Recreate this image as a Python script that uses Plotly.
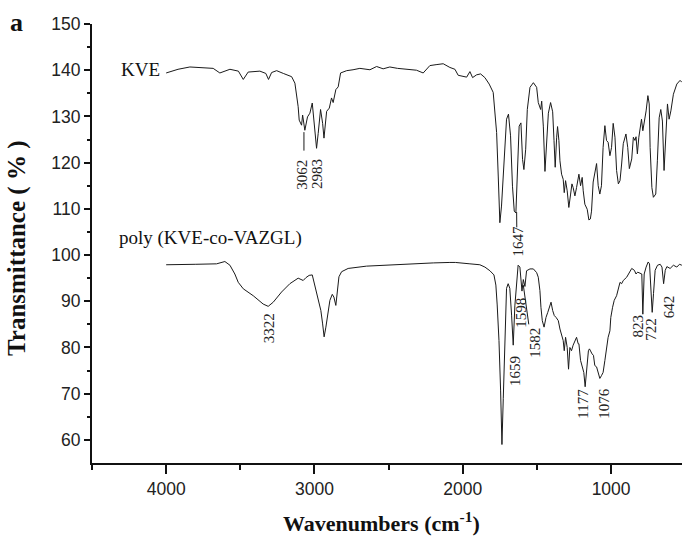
import plotly.graph_objects as go

# ---------------- data ----------------
kve_wn = [4000, 3920, 3840, 3760, 3683, 3638, 3570, 3513, 3480, 3447, 3368, 3328, 3310, 3289, 3255, 3210,
          3154, 3132, 3121, 3110, 3103, 3087, 3080, 3065, 3047, 3031, 3015, 3004, 2986, 2975, 2959, 2945,
          2936, 2918, 2900, 2885, 2874, 2856, 2840, 2824, 2783, 2740, 2694, 2626, 2581, 2537, 2492, 2440,
          2402, 2312, 2267, 2222, 2180, 2132, 2087, 2053, 2031, 1997, 1974, 1952, 1934, 1907, 1880, 1851,
          1822, 1795, 1784, 1772, 1761, 1750, 1739, 1723, 1705, 1692, 1678, 1665, 1653, 1642, 1633, 1620,
          1608, 1597, 1588, 1576, 1565, 1547, 1524, 1502, 1491, 1475, 1468, 1457, 1446, 1434, 1423, 1408,
          1394, 1385, 1377, 1367, 1361, 1352, 1345, 1334, 1323, 1316, 1307, 1296, 1285, 1273, 1264, 1256,
          1244, 1233, 1217, 1206, 1195, 1188, 1177, 1161, 1150, 1140, 1132, 1121, 1110, 1098, 1087, 1076,
          1065, 1054, 1042, 1031, 1020, 1008, 997, 986, 974, 963, 951, 940, 929, 918, 900, 888,
          877, 861, 850, 839, 832, 823, 813, 804, 795, 786, 775, 764, 752, 743, 737, 725,
          715, 699, 688, 676, 665, 654, 643, 631, 620, 609, 597, 580, 557, 535, 523]
kve_t = [139.4, 140.2, 140.7, 140.5, 140.4, 139.4, 140.2, 139.8, 138.0, 139.6, 139.8, 139.3, 138.0, 139.5, 139.9, 139.3,
         138.6, 137.2, 135.0, 132.1, 129.2, 128.1, 130.3, 127.0, 129.9, 130.7, 132.9, 129.2, 123.1, 126.3, 131.5, 128.5,
         125.3, 131.1, 131.8, 134.0, 133.0, 135.8, 136.4, 139.4, 139.9, 140.1, 140.4, 140.1, 140.8, 140.3, 140.7, 140.4,
         140.3, 140.0, 139.4, 141.0, 141.2, 141.4, 140.6, 140.2, 138.9, 138.6, 138.5, 139.7, 138.4, 139.0, 139.2, 138.4,
         137.0, 135.2, 131.5, 126.5, 117.1, 107.0, 110.6, 120.7, 129.4, 130.5, 125.8, 114.9, 109.5, 109.1, 118.5, 127.9,
         128.6, 120.7, 118.5, 122.9, 131.5, 136.3, 137.3, 136.3, 133.0, 131.5, 133.3, 127.9, 118.1, 124.2, 130.7, 133.0,
         131.0, 124.8, 119.0, 125.5, 127.8, 124.8, 120.4, 117.5, 116.4, 113.5, 116.1, 113.9, 110.3, 113.2, 115.4, 114.6,
         112.8, 114.6, 117.5, 115.0, 116.8, 113.9, 111.0, 109.9, 107.6, 107.8, 109.5, 115.8, 118.0, 119.8, 115.0, 113.2,
         115.0, 123.3, 128.0, 124.8, 124.4, 121.5, 123.3, 128.5, 125.5, 118.3, 115.4, 116.1, 119.7, 124.1, 126.2, 123.3,
         118.7, 120.8, 125.5, 124.8, 125.6, 121.9, 125.5, 127.6, 129.4, 126.9, 128.7, 131.2, 134.5, 132.7, 123.3, 114.6,
         112.5, 113.2, 120.4, 129.7, 131.5, 129.0, 118.3, 127.6, 132.7, 129.4, 131.2, 134.8, 137.0, 137.8, 137.4]

poly_wn = [4000, 3900, 3800, 3660, 3604, 3570, 3537, 3514, 3480, 3413, 3346, 3312, 3278, 3222, 3166, 3110,
           3076, 3058, 3036, 3015, 3002, 2986, 2970, 2957, 2945, 2935, 2923, 2912, 2896, 2880, 2869, 2856,
           2844, 2835, 2817, 2773, 2649, 2424, 2199, 2087, 2050, 1952, 1885, 1851, 1817, 1790, 1777, 1768,
           1756, 1745, 1736, 1727, 1716, 1705, 1694, 1683, 1671, 1660, 1649, 1638, 1627, 1615, 1608, 1601,
           1592, 1581, 1570, 1547, 1524, 1502, 1491, 1480, 1473, 1464, 1452, 1439, 1427, 1416, 1405, 1394,
           1383, 1371, 1356, 1345, 1334, 1323, 1316, 1307, 1296, 1287, 1278, 1267, 1256, 1244, 1233, 1222,
           1217, 1206, 1195, 1184, 1175, 1164, 1153, 1146, 1137, 1128, 1119, 1110, 1098, 1087, 1076, 1065,
           1054, 1042, 1031, 1020, 1008, 1002, 990, 979, 963, 951, 940, 929, 918, 895, 877, 861,
           843, 832, 821, 804, 793, 786, 777, 764, 750, 741, 732, 723, 714, 703, 687, 669,
           657, 646, 635, 624, 602, 580, 557, 539, 523]
poly_t = [97.9, 97.9, 98.0, 98.1, 98.6, 97.8, 95.9, 94.1, 92.7, 91.2, 89.4, 88.9, 89.8, 92.0, 93.8, 95.0,
          94.5, 95.1, 95.6, 95.7, 94.1, 92.0, 89.8, 88.0, 85.1, 82.3, 84.4, 87.3, 90.2, 91.5, 90.9, 89.1,
          92.4, 95.3, 96.4, 97.1, 97.6, 98.0, 98.3, 98.4, 98.4, 98.1, 97.9, 97.4, 96.6, 95.7, 93.5, 89.2,
          81.5, 70.6, 59.0, 69.0, 81.0, 92.8, 93.8, 92.8, 87.0, 80.5, 89.0, 94.0, 97.8, 97.4, 94.0, 92.2,
          94.7, 93.2, 96.6, 97.0, 97.0, 96.2, 95.2, 92.3, 88.7, 85.8, 84.4, 86.5, 87.6, 88.7, 89.8, 88.0,
          86.9, 86.5, 85.8, 84.0, 82.9, 81.5, 79.3, 82.2, 80.0, 75.3, 80.0, 79.3, 80.5, 81.5, 82.2, 80.8,
          80.8, 77.2, 76.1, 74.6, 71.5, 76.5, 79.3, 79.7, 79.0, 78.6, 78.3, 76.1, 75.8, 74.6, 73.3, 73.9,
          74.6, 77.2, 80.0, 82.2, 83.6, 86.5, 88.7, 90.2, 91.2, 93.1, 94.1, 93.8, 94.5, 95.2, 96.3, 97.1,
          96.7, 95.9, 96.3, 96.1, 95.9, 87.2, 95.9, 97.4, 98.5, 98.1, 93.1, 87.6, 91.7, 96.7, 97.8, 98.0,
          97.4, 93.8, 96.7, 97.5, 97.1, 97.8, 97.4, 98.0, 97.8]

# peak labels: text, wavenumber position, transmittance position (label centre)
peak_text = ["3062", "2983", "1647", "3322", "1659", "1598", "1582", "1177", "1076", "823", "722", "642"]
peak_x = [3081, 2984, 1630, 3306, 1652, 1608, 1514, 1191, 1049, 816, 732, 614]
peak_y = [117.5, 117.5, 103.1, 84.2, 75.0, 87.5, 81.0, 67.8, 68.0, 84.6, 84.0, 88.8]

# leader lines: (x0, y0, x1, y1) in data units
leaders = [(3071, 126.6, 3071, 122.6), (1637, 109.3, 1636, 106.0), (1592, 93.5, 1555, 85.0)]

series_names = ["KVE", "poly (KVE-co-VAZGL)"]
name_x = [4030, 3698]
name_y = [140.2, 103.6]

x_ticks = [4000, 3000, 2000, 1000]
y_ticks = [60, 70, 80, 90, 100, 110, 120, 130, 140, 150]

# ---------------- layout geometry ----------------
W, H = 682, 536
L, R, T, B = 92, 0, 24, 73
pw, ph = W - L - R, H - T - B


def px_to_paper(px, py):
    return (px - L) / pw, (H - B - py) / ph


serif = "Liberation Serif, Times New Roman, serif"
sans = "Liberation Sans, Arial, sans-serif"
line_col = "#1a1a1a"

fig = go.Figure()
fig.add_trace(go.Scatter(x=kve_wn, y=kve_t, mode="lines", line=dict(color=line_col, width=1),
                         showlegend=False, hoverinfo="skip"))
fig.add_trace(go.Scatter(x=poly_wn, y=poly_t, mode="lines", line=dict(color=line_col, width=1),
                         showlegend=False, hoverinfo="skip"))
for (x0, y0, x1, y1) in leaders:
    fig.add_trace(go.Scatter(x=[x0, x1], y=[y0, y1], mode="lines", line=dict(color=line_col, width=1),
                             showlegend=False, hoverinfo="skip"))

annotations = []
for t, x, y in zip(peak_text, peak_x, peak_y):
    annotations.append(dict(x=x, y=y, xref="x", yref="y", text=t, textangle=-90, showarrow=False,
                            xanchor="center", yanchor="middle",
                            font=dict(family=serif, size=15, color="#222")))
annotations.append(dict(x=name_x[0], y=name_y[0], xref="x", yref="y", text=series_names[0], showarrow=False,
                        xanchor="right", yanchor="middle", font=dict(family=serif, size=19, color="#111")))
annotations.append(dict(x=name_x[1], y=name_y[1], xref="x", yref="y", text=series_names[1], showarrow=False,
                        xanchor="center", yanchor="middle", font=dict(family=serif, size=19, color="#111")))

ax, ay = px_to_paper(17, 249)
annotations.append(dict(x=ax, y=ay, xref="paper", yref="paper", text="<b>Transmittance ( % )</b>",
                        textangle=-90, showarrow=False, xanchor="center", yanchor="middle",
                        font=dict(family=serif, size=25, color="#111")))
bx, by = px_to_paper(381, 522)
annotations.append(dict(x=bx, y=by, xref="paper", yref="paper",
                        text="<b>Wavenumbers (cm<sup>-1</sup>)</b>", showarrow=False,
                        xanchor="center", yanchor="middle", font=dict(family=serif, size=22, color="#111")))
cx, cy = px_to_paper(16, 23)
annotations.append(dict(x=cx, y=cy, xref="paper", yref="paper", text="<b>a</b>", showarrow=False,
                        xanchor="center", yanchor="middle", font=dict(family=serif, size=26, color="#111")))

fig.update_layout(
    width=W, height=H,
    margin=dict(l=L, r=R, t=T, b=B, pad=0),
    paper_bgcolor="white", plot_bgcolor="white",
    annotations=annotations,
    xaxis=dict(range=[4500, 522], tickvals=x_ticks, ticktext=[str(v) for v in x_ticks],
               showgrid=False, zeroline=False, showline=True, linecolor="#111", linewidth=2,
               ticks="outside", ticklen=9, tickwidth=1.5, tickcolor="#111",
               tickfont=dict(family=sans, size=17.5, color="#222"),
               minor=dict(tickvals=[4500, 3500, 2500, 1500], ticks="outside", ticklen=5,
                          tickwidth=1.5, tickcolor="#111", showgrid=False)),
    yaxis=dict(range=[55, 150], tickvals=y_ticks, ticktext=[str(v) for v in y_ticks],
               showgrid=False, zeroline=False, showline=True, linecolor="#111", linewidth=2,
               ticks="outside", ticklen=6, tickwidth=1.5, tickcolor="#111",
               tickfont=dict(family=sans, size=17.5, color="#222"),
               minor=dict(tickvals=[65, 75, 85, 95, 105, 115, 125, 135, 145], ticks="outside", ticklen=3,
                          tickwidth=1.5, tickcolor="#111", showgrid=False)),
)

fig.write_html("out.html", config={"displayModeBar": False},
               post_script="document.body.style.margin='0px';")
